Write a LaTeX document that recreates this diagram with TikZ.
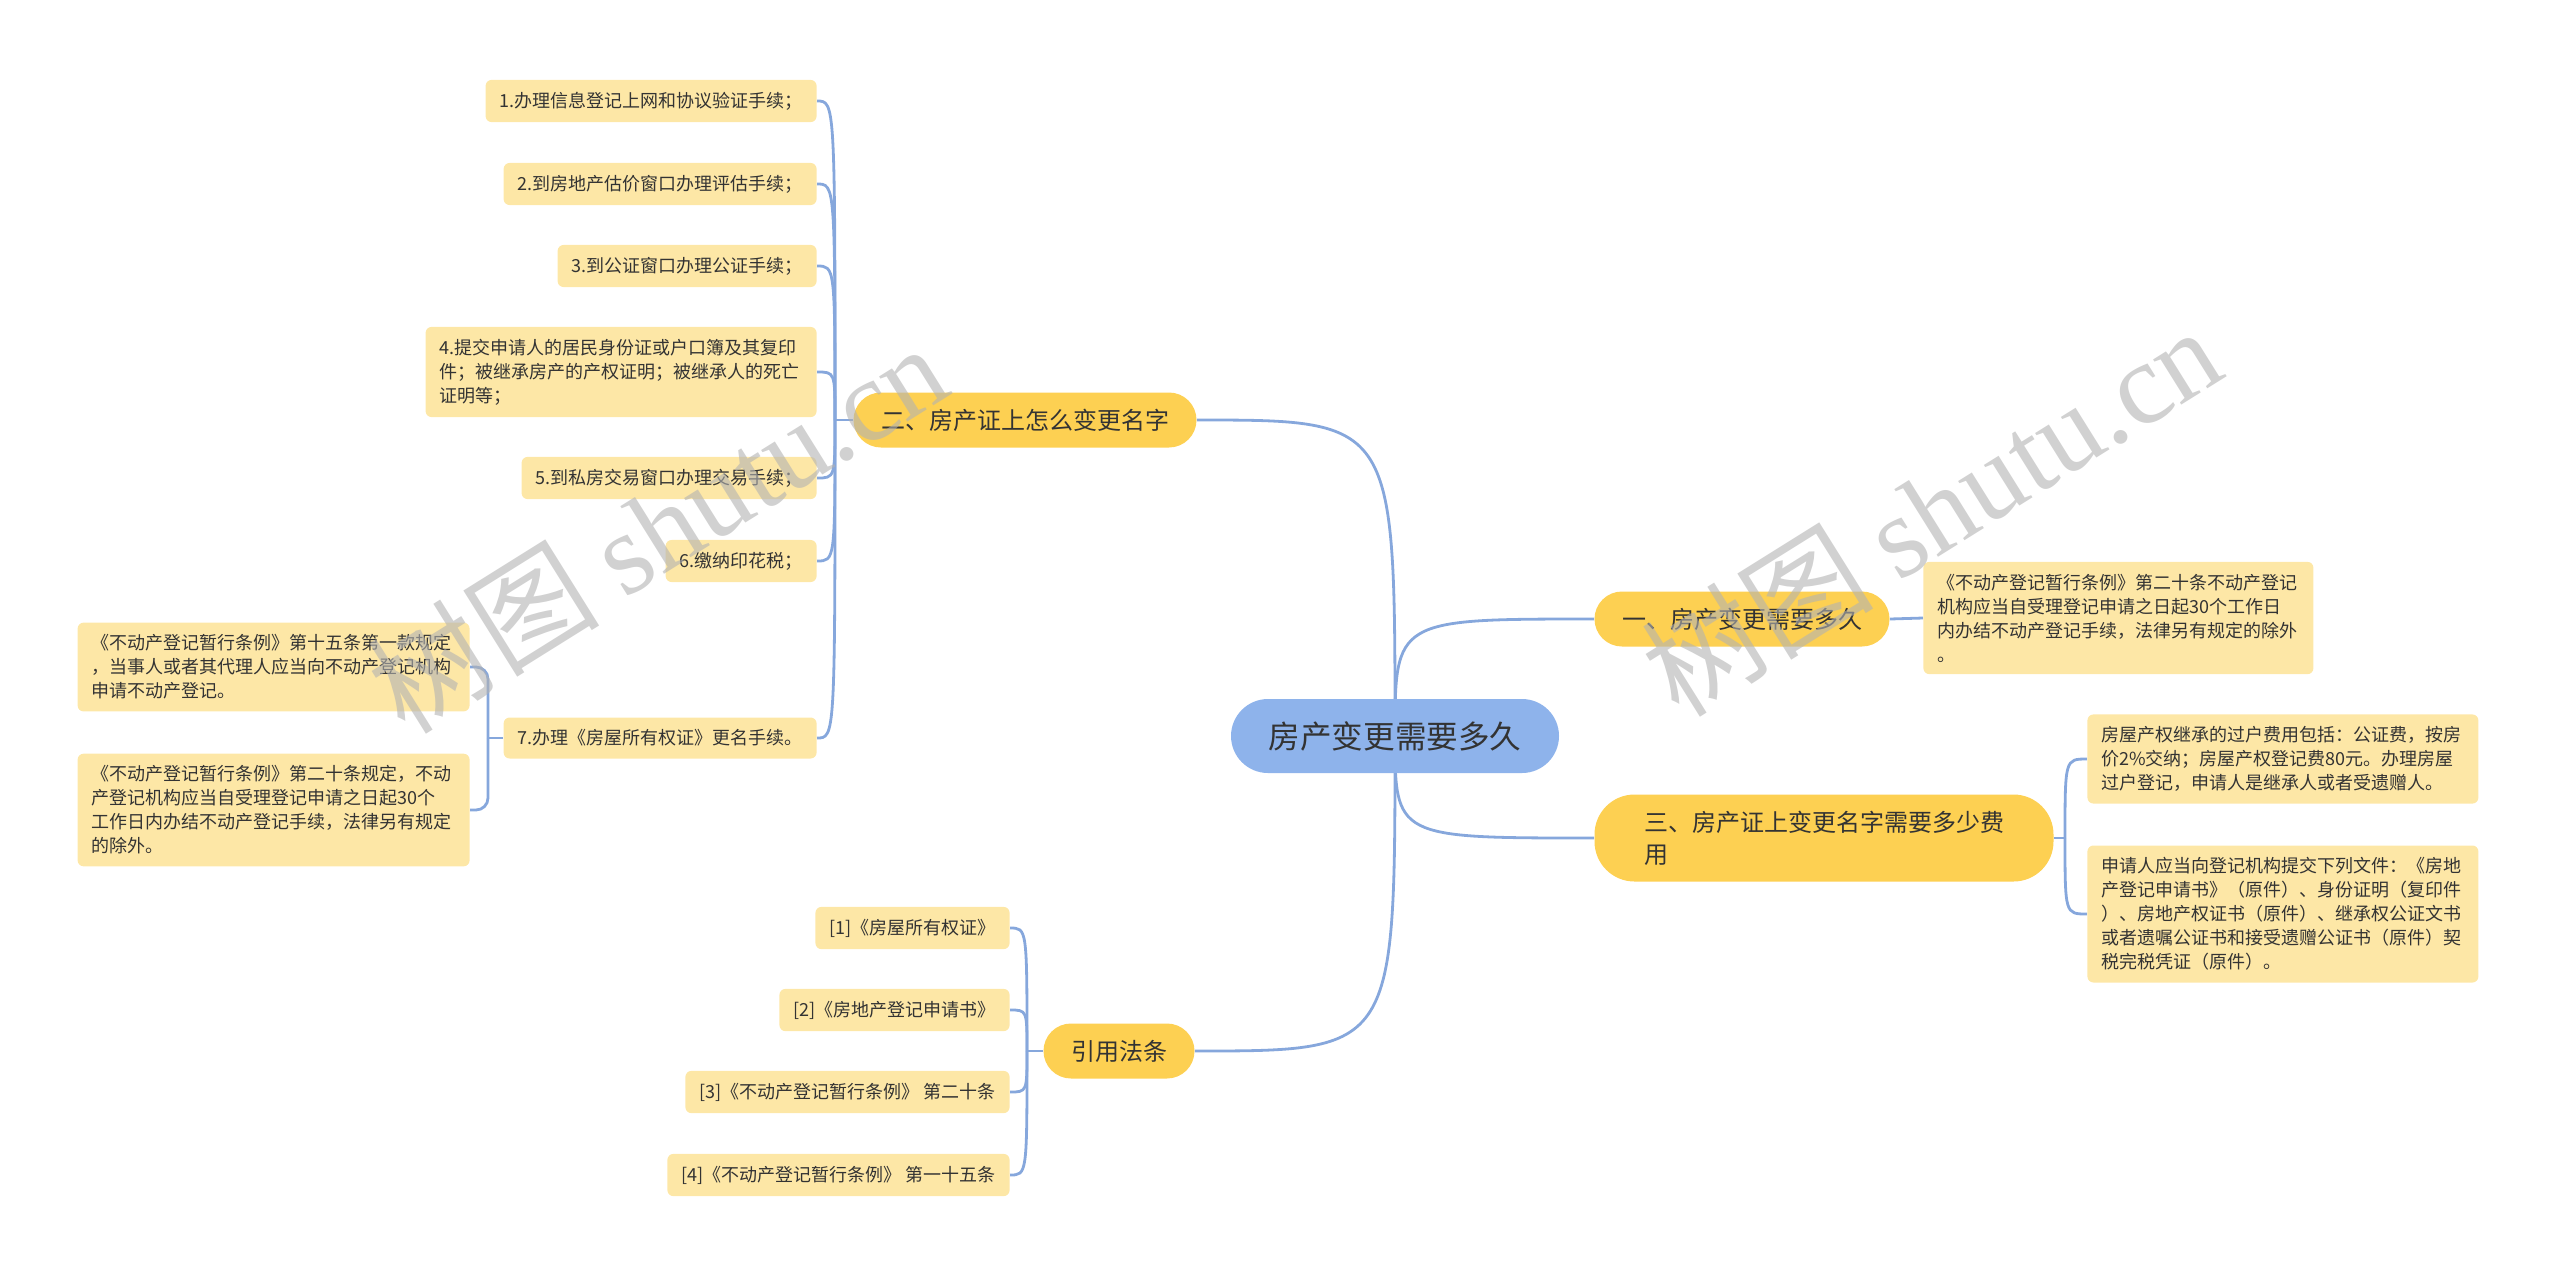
\documentclass[tikz,border=0pt]{standalone}
\usepackage{fontspec}
\setmainfont{Noto Sans CJK SC}
\newfontfamily\wmfont{Liberation Serif}
\usetikzlibrary{backgrounds}

\definecolor{rootblue}{HTML}{8EB3EB}
\definecolor{topicgold}{HTML}{FDD052}
\definecolor{leafcream}{HTML}{FDE7A6}
\definecolor{linkblue}{HTML}{86A7DC}
\definecolor{inkgray}{HTML}{333333}

\begin{document}
\begin{tikzpicture}[
  x=0.5pt, y=-0.5pt,
  line cap=round,
  line join=round,
  every node/.style={text=inkgray, inner sep=0pt},
  root/.style={fill=rootblue, rounded corners=18.5pt, minimum width=164pt,
    minimum height=37pt, font=\fontsize{15.8}{18}\selectfont},
  topic/.style={fill=topicgold, rounded corners=13.75pt, minimum height=27.5pt,
    inner xsep=13.75pt, font=\fontsize{12}{16}\selectfont},
  leaf/.style={fill=leafcream, rounded corners=3pt, minimum height=20.5pt,
    inner xsep=7pt, inner ysep=6pt, align=left, font=\fontsize{9}{12}\selectfont},
  link/.style={draw=linkblue, line width=1.4pt},
  wmark/.style={text=black!30, text opacity=0.6, rotate=32,
    font=\fontsize{58}{60}\selectfont}
]
  \useasboundingbox (0,0) rectangle (2560,1276);

  % The centre and its four topics
  \node[root] (root) at (1395,736) {房产变更需要多久};
  \node[topic] (t2) at (1025,420) {二、房产证上怎么变更名字};
  \node[topic] (t1) at (1742,619) {一、房产变更需要多久};
  \node[topic, text width=180pt, inner xsep=24.75pt, inner ysep=8pt,
    minimum height=43.5pt, rounded corners=20pt, align=left] (t3) at (1824,838)
    {三、房产证上变更名字需要多少费\\用};
  \node[topic] (tref) at (1119,1051) {引用法条};

  % Steps under topic two
  \node[leaf, anchor=east] (s1) at (817,101) {1.办理信息登记上网和协议验证手续；};
  \node[leaf, anchor=east] (s2) at (817,184) {2.到房地产估价窗口办理评估手续；};
  \node[leaf, anchor=east] (s3) at (817,266) {3.到公证窗口办理公证手续；};
  \node[leaf, anchor=east, text width=181.5pt] (s4) at (817,372)
    {4.提交申请人的居民身份证或户口簿及其复印\\件；被继承房产的产权证明；被继承人的死亡\\证明等；};
  \node[leaf, anchor=east] (s5) at (817,478) {5.到私房交易窗口办理交易手续；};
  \node[leaf, anchor=east] (s6) at (817,561) {6.缴纳印花税；};
  \node[leaf, anchor=east] (s7) at (817,738) {7.办理《房屋所有权证》更名手续。};

  \node[leaf, anchor=east, text width=182pt] (s7a) at (470,667)
    {《不动产登记暂行条例》第十五条第一款规定\\，当事人或者其代理人应当向不动产登记机构\\申请不动产登记。};
  \node[leaf, anchor=east, text width=182pt] (s7b) at (470,810)
    {《不动产登记暂行条例》第二十条规定，不动\\产登记机构应当自受理登记申请之日起30个\\工作日内办结不动产登记手续，法律另有规定\\的除外。};

  % Right-hand details
  \node[leaf, anchor=west, text width=181pt] (u1) at (1923,618)
    {《不动产登记暂行条例》第二十条不动产登记\\机构应当自受理登记申请之日起30个工作日\\内办结不动产登记手续，法律另有规定的除外\\。};
  \node[leaf, anchor=west, text width=181.5pt] (u3a) at (2087,759)
    {房屋产权继承的过户费用包括：公证费，按房\\价2\%交纳；房屋产权登记费80元。办理房屋\\过户登记，申请人是继承人或者受遗赠人。};
  \node[leaf, anchor=west, text width=181.5pt] (u3b) at (2087,914)
    {申请人应当向登记机构提交下列文件：《房地\\产登记申请书》（原件）、身份证明（复印件\\）、房地产权证书（原件）、继承权公证文书\\或者遗嘱公证书和接受遗赠公证书（原件）契\\税完税凭证（原件）。};

  % Cited texts
  \node[leaf, anchor=east] (r1) at (1010,928) {[1]《房屋所有权证》};
  \node[leaf, anchor=east] (r2) at (1010,1010) {[2]《房地产登记申请书》};
  \node[leaf, anchor=east] (r3) at (1010,1092) {[3]《不动产登记暂行条例》 第二十条};
  \node[leaf, anchor=east] (r4) at (1010,1175) {[4]《不动产登记暂行条例》 第一十五条};

  \coordinate (j2) at (835,420);
  \coordinate (j7) at (488,738);
  \coordinate (j3) at (2065,838);
  \coordinate (jr) at (1027,1051);

  \begin{scope}[on background layer]
    \foreach \t in {t2,t1,t3}
      \draw[link] (root.center) .. controls (root.center |- \t) .. (\t);
    \draw[link] (root.center) .. controls (root.center |- tref.east) .. (tref.east);

    \draw[link] (t2.west) -- (j2);
    \foreach \n in {s1,s2,s3,s4,s5,s6,s7}
      \draw[link] (j2) .. controls (j2 |- \n.east) .. (\n.east);

    \draw[link] (s7.west) -- (j7);
    \foreach \n in {s7a,s7b}
      \draw[link, rounded corners=6pt] (j7) |- (\n.east);

    \draw[link] (t1.east) -- (u1.west);

    \draw[link] (t3.east) -- (j3);
    \foreach \n in {u3a,u3b}
      \draw[link] (j3) .. controls (j3 |- \n.west) .. (\n.west);

    \draw[link] (tref.west) -- (jr);
    \foreach \n in {r1,r2,r3,r4}
      \draw[link] (jr) .. controls (jr |- \n.east) .. (\n.east);
  \end{scope}

  % Watermarks
  \node[wmark] (wm1) at (657,527) {树图 {\wmfont shutu.cn}};
  \node[wmark] (wm2) at (1931,510) {树图 {\wmfont shutu.cn}};
\end{tikzpicture}
\end{document}
